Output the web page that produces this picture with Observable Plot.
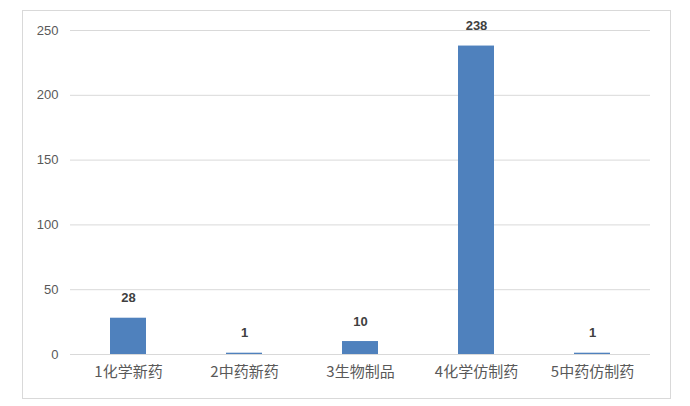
<!DOCTYPE html>
<html><head><meta charset="utf-8">
<script src="https://cdn.jsdelivr.net/npm/d3@7"></script>
<script src="https://cdn.jsdelivr.net/npm/@observablehq/plot@0.6"></script>
<style>
body{margin:0;background:#fff;}
#wrap{position:relative;width:690px;height:406px;}
#border{position:absolute;left:22px;top:10px;width:647px;height:387px;border:1px solid #d9d9d9;}
#chart{position:absolute;left:0;top:0;}
</style></head>
<body>
<div id="wrap"><div id="border"></div><div id="chart"></div></div>
<script>
const categories = ["1化学新药","2中药新药","3生物制品","4化学仿制药","5中药仿制药"];
const values = [28, 1, 10, 238, 1];
const yTicks = [0, 50, 100, 150, 200, 250];

const data = categories.map((c, i) => ({cat: c, v: values[i]}));

const chart = Plot.plot({
  width: 690,
  height: 406,
  marginLeft: 70,
  marginRight: 40,
  marginTop: 30,
  marginBottom: 52,
  style: {background: "transparent", fontFamily: "'Noto Sans CJK SC', 'DejaVu Sans', sans-serif"},
  x: {domain: categories, paddingInner: 0.69, paddingOuter: 0.345, label: null},
  y: {domain: [0, 250], label: null},
  marks: [
    Plot.gridY(yTicks, {stroke: "#d9d9d9", strokeOpacity: 1, strokeWidth: 1}),
    Plot.barY(data, {x: "cat", y: "v", fill: "#4f81bd"}),
    Plot.text(data, {x: "cat", y: "v", text: d => String(d.v), dy: -20, fill: "#404040", fontSize: 13, fontWeight: 600, fontFamily: "'Liberation Sans', sans-serif"}),
    Plot.axisY({ticks: yTicks, tickSize: 0, tickPadding: 12, fontSize: 13, fill: "#595959", fontFamily: "'Liberation Sans', sans-serif"}),
    Plot.axisX({tickSize: 0, tickPadding: 12, fontSize: 15, fill: "#595959"})
  ]
});
document.getElementById("chart").appendChild(chart);
</script>
</body></html>
